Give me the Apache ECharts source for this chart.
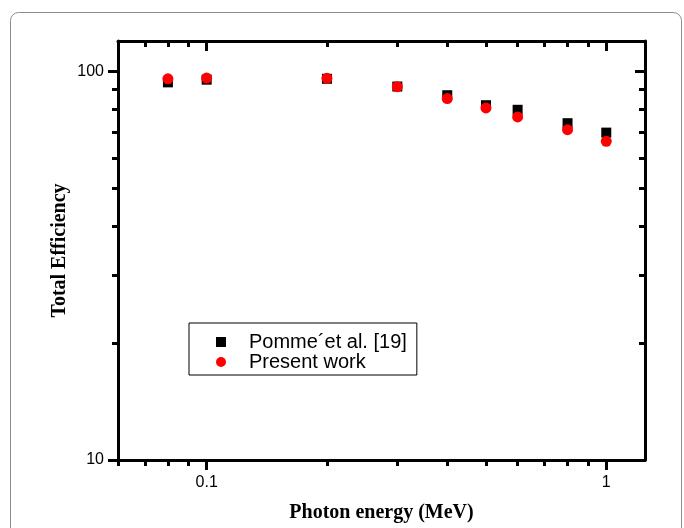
<!DOCTYPE html>
<html>
<head>
<meta charset="utf-8">
<script src="https://cdn.jsdelivr.net/npm/echarts@6/dist/echarts.min.js"></script>
<style>
html,body{margin:0;padding:0;background:#fff;}
#chart{width:684px;height:528px;}
</style>
</head>
<body>
<div id="chart"></div>
<script>
// Data
var energies = [0.08, 0.1, 0.2, 0.3, 0.4, 0.5, 0.6, 0.8, 1.0];
var pommeValues = [93.9, 95.4, 95.9, 91.6, 87.0, 82.0, 79.8, 73.7, 69.7];
var presentValues = [95.9, 96.3, 96.2, 91.5, 85.3, 80.7, 76.5, 70.9, 66.2];
var seriesNames = ['Pomme\u00B4et al. [19]', 'Present work'];
var xMajorTicks = [0.1, 1];
var xMinorTicks = [0.06, 0.07, 0.08, 0.09, 0.2, 0.3, 0.4, 0.5, 0.6, 0.7, 0.8, 0.9];
var yMajorTicks = [10, 100];
var yMinorTicks = [20, 30, 40, 50, 60, 70, 80, 90];
var xRange = [0.06, 1.25];
var yRange = [10, 120];

function pairs(xs, ys) {
  return xs.map(function (x, i) { return [x, ys[i]]; });
}
function fmt(v) { return String(+Number(v).toPrecision(6)); }

var gridRect = { left: 118, right: 39, top: 41, bottom: 68 };
var lineStyle = { color: '#000', width: 3 };
var labelFont = { fontFamily: 'Liberation Sans, Arial, sans-serif', fontSize: 16, color: '#000' };

function xAxisDef(gridIndex, position, ticks, isMajor, showLine, showLabel, inside) {
  return {
    type: 'log', logBase: 10, gridIndex: gridIndex, position: position,
    min: xRange[0], max: xRange[1],
    axisLine: { show: showLine, onZero: false, lineStyle: lineStyle },
    axisTick: { show: true, inside: inside, length: isMajor ? 10 : 6, customValues: ticks, lineStyle: { color: '#000', width: 3 } },
    axisLabel: showLabel ? Object.assign({ show: true, margin: 15, customValues: ticks, formatter: fmt }, labelFont) : { show: false },
    splitLine: { show: false },
    minorTick: { show: false },
    name: showLabel ? 'Photon energy (MeV)' : '',
    nameLocation: 'middle',
    nameGap: 43,
    nameMoveOverlap: false,
    nameTextStyle: { fontFamily: 'Liberation Serif, Times New Roman, serif', fontWeight: 'bold', fontSize: 20, color: '#000' }
  };
}
function yAxisDef(gridIndex, position, ticks, isMajor, showLine, showLabel, inside) {
  return {
    type: 'log', logBase: 10, gridIndex: gridIndex, position: position,
    min: yRange[0], max: yRange[1],
    axisLine: { show: showLine, onZero: false, lineStyle: lineStyle },
    axisTick: { show: true, inside: inside, length: isMajor ? 10 : 6, customValues: ticks, lineStyle: { color: '#000', width: 3 } },
    axisLabel: showLabel ? Object.assign({ show: true, margin: 14, customValues: ticks, formatter: fmt }, labelFont) : { show: false },
    splitLine: { show: false },
    minorTick: { show: false },
    name: showLabel ? 'Total Efficiency' : '',
    nameLocation: 'middle',
    nameGap: 48,
    nameMoveOverlap: false,
    nameTextStyle: { fontFamily: 'Liberation Serif, Times New Roman, serif', fontWeight: 'bold', fontSize: 20, color: '#000' }
  };
}

var chart = echarts.init(document.getElementById('chart'), null, { renderer: 'canvas' });
chart.setOption({
  animation: false,
  backgroundColor: '#fff',
  graphic: [{
    type: 'rect',
    shape: { x: 10.5, y: 12.5, width: 671, height: 600, r: 8 },
    style: { fill: 'none', stroke: '#8c8c8c', lineWidth: 1 },
    silent: true, z: -10
  }],
  grid: [
    Object.assign({ outerBoundsMode: 'none' }, gridRect),
    Object.assign({ outerBoundsMode: 'none' }, gridRect)
  ],
  xAxis: [
    xAxisDef(0, 'bottom', xMajorTicks, true, true, true, false),
    xAxisDef(0, 'top', xMajorTicks, true, true, false, true),
    xAxisDef(1, 'bottom', xMinorTicks, false, false, false, false),
    xAxisDef(1, 'top', xMinorTicks, false, false, false, true)
  ],
  yAxis: [
    yAxisDef(0, 'left', yMajorTicks, true, true, true, false),
    yAxisDef(0, 'right', yMajorTicks, true, true, false, true),
    yAxisDef(1, 'left', yMinorTicks, false, false, false, false),
    yAxisDef(1, 'right', yMinorTicks, false, false, false, true)
  ],
  legend: {
    orient: 'vertical',
    left: 189, top: 323,
    borderColor: '#000', borderWidth: 1,
    padding: [9, 10, 3, 27],
    itemWidth: 10, itemHeight: 10, itemGap: 0,
    selectedMode: false,
    textStyle: { fontFamily: 'Liberation Sans, Arial, sans-serif', fontSize: 20, lineHeight: 20, color: '#000', padding: [0, 0, 0, 18] },
    data: [
      { name: seriesNames[0], icon: 'rect' },
      { name: seriesNames[1], icon: 'circle' }
    ]
  },
  series: [
    {
      name: seriesNames[0], type: 'scatter', xAxisIndex: 0, yAxisIndex: 0,
      symbol: 'rect', symbolSize: 10,
      itemStyle: { color: '#000', opacity: 1 },
      data: pairs(energies, pommeValues), z: 2
    },
    {
      name: seriesNames[1], type: 'scatter', xAxisIndex: 0, yAxisIndex: 0,
      symbol: 'circle', symbolSize: 11,
      itemStyle: { color: '#ff0000', opacity: 1 },
      data: pairs(energies, presentValues), z: 3
    }
  ]
});
</script>
</body>
</html>
